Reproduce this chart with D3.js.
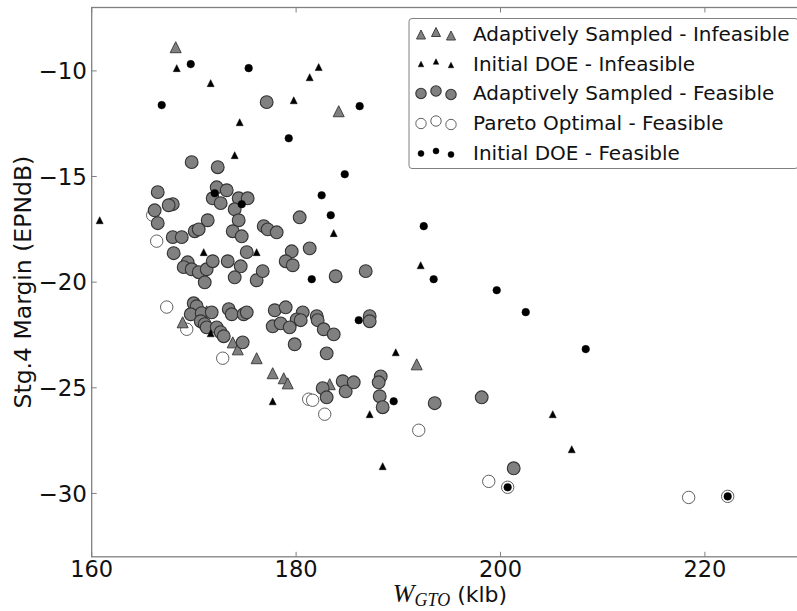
<!DOCTYPE html>
<html><head><meta charset="utf-8">
<script src="https://cdn.jsdelivr.net/npm/d3@7"></script>
<style>body{margin:0;background:#fff}svg{display:block}</style>
</head><body>
<svg id="chart" width="797" height="611"></svg>
<script>
// ---------- data ----------
const xTicks = [160, 180, 200, 220];
const yTicks = [-10, -15, -20, -25, -30];
const xDomain = [160, 230];
const yDomain = [-33, -7];
const legendLabels = [
  "Adaptively Sampled - Infeasible",
  "Initial DOE - Infeasible",
  "Adaptively Sampled - Feasible",
  "Pareto Optimal - Feasible",
  "Initial DOE - Feasible"
];
const adaptiveInfeasible = [
  [168.22,-8.88],[184.17,-11.91],[168.90,-21.90],[171.25,-21.38],[173.80,-22.85],
  [174.29,-23.18],[176.14,-23.60],[177.71,-24.31],[178.79,-24.55],[179.18,-24.79],
  [183.29,-24.83],[191.80,-23.89]
];
const initialInfeasible = [
  [168.32,-9.87],[171.64,-10.58],[174.48,-12.43],[173.99,-13.99],[179.77,-11.39],
  [181.33,-10.30],[182.21,-9.82],[160.78,-17.07],[170.96,-18.58],[176.14,-18.58],
  [183.68,-17.68],[189.75,-23.32],[171.64,-22.42],[192.19,-19.20],[177.71,-25.64],
  [187.20,-26.25],[188.47,-28.71],[205.11,-26.25],[206.97,-27.91]
];
const adaptiveFeasible = [
  [177.12,-11.48],[169.78,-14.32],[172.33,-14.56],[166.46,-15.74],[172.23,-15.51],
  [173.21,-15.65],[171.84,-16.03],[172.62,-16.26],[174.38,-16.03],[175.26,-16.03],
  [173.99,-16.55],[174.38,-17.07],[171.35,-17.07],[170.08,-17.59],[170.47,-17.50],
  [173.80,-17.59],[174.68,-17.83],[167.93,-16.31],[167.53,-16.36],[166.16,-16.60],
  [166.46,-17.21],[167.93,-17.87],[168.81,-17.87],[176.83,-17.35],[177.22,-17.50],
  [178.10,-17.64],[180.35,-16.93],[181.33,-18.40],[179.57,-18.54],[175.17,-18.58],
  [168.02,-18.63],[169.39,-19.06],[169.00,-19.29],[169.78,-19.39],[170.47,-19.53],
  [171.25,-19.39],[171.84,-19.01],[171.06,-20.01],[173.31,-19.01],[174.58,-19.25],
  [173.99,-19.77],[176.14,-19.91],[176.73,-19.48],[178.98,-19.01],[179.67,-19.20],
  [183.87,-19.72],[186.81,-19.48],
  [169.98,-21.00],[170.27,-21.14],[169.69,-21.52],[170.76,-21.47],[171.74,-21.43],
  [170.67,-21.85],[171.06,-21.99],[171.25,-22.14],[172.23,-22.14],[172.62,-22.37],
  [172.92,-22.56],[173.41,-21.28],[173.70,-21.52],[174.87,-21.52],[175.17,-21.43],
  [174.77,-22.85],[177.91,-21.33],[178.98,-21.19],[180.65,-21.43],[180.06,-21.76],
  [180.45,-21.80],[177.71,-22.09],[178.49,-21.95],[179.37,-22.14],[182.02,-21.61],
  [182.11,-21.80],[182.70,-22.23],[183.68,-22.47],[179.86,-22.94],[182.99,-23.37],
  [187.20,-21.61],[187.20,-21.85],
  [182.60,-25.02],[182.99,-25.45],[184.56,-24.69],[184.85,-25.17],[185.64,-24.74],
  [188.28,-24.46],[188.08,-24.74],[188.18,-25.40],[188.47,-25.92],[193.56,-25.73],
  [198.16,-25.45],[201.29,-28.81]
];
const paretoOptimal = [
  [165.97,-16.83],[166.36,-18.06],[167.34,-21.18],[169.30,-22.23],[172.82,-23.60],
  [181.23,-25.54],[181.62,-25.59],[182.80,-26.25],[192.00,-27.01],[198.85,-29.43],
  [200.70,-29.71],[218.41,-30.19],[222.23,-30.14]
];
const initialFeasible = [
  [169.69,-9.68],[175.36,-9.87],[166.85,-11.62],[179.28,-13.19],[186.22,-11.67],
  [184.76,-14.89],[182.50,-15.89],[172.04,-15.79],[174.68,-16.31],[183.39,-16.83],
  [181.53,-19.86],[186.13,-21.80],[192.49,-17.35],[193.46,-19.86],[199.63,-20.38],
  [202.47,-21.42],[208.34,-23.17],[189.55,-25.64],[200.70,-29.71],[222.23,-30.14]
];

// ---------- layout ----------
const svg = d3.select("#chart");
const L = 91.7, T = 7.5, B = 556.8;
const x = d3.scaleLinear().domain(xDomain).range([L, L + 70 * 10.22]);
const y = d3.scaleLinear().domain(yDomain).range([B, T]);
const R = x(xDomain[1]);
const FONT = "'DejaVu Sans', sans-serif";

const tri = s => `M0,${-s/2}L${s/2},${s/2}L${-s/2},${s/2}Z`;

const styles = [
  {type:"tri", size:11, fill:"#808080", stroke:"#404040", sw:1, lsize:9},
  {type:"tri", size:7,  fill:"#000",    stroke:"#000",    sw:0.5, lsize:5.5},
  {type:"circ", r:6.4,  fill:"#808080", stroke:"#333", sw:1.1, lr:5.2},
  {type:"circ", r:6.2,  fill:"#fff",    stroke:"#606060", sw:1, lr:5.2},
  {type:"circ", r:3.8,  fill:"#000",    stroke:"#000",    sw:0.5, lr:3}
];
const seriesData = [adaptiveInfeasible, initialInfeasible, adaptiveFeasible, paretoOptimal, initialFeasible];

// frame
svg.append("rect").attr("x", L).attr("y", T).attr("width", R - L).attr("height", B - T)
  .attr("fill", "#fff").attr("stroke", "#808080").attr("stroke-width", 1.3);

// ticks (inward, all sides)
const tg = svg.append("g").attr("stroke", "#808080").attr("stroke-width", 1);
xTicks.forEach(t => {
  tg.append("line").attr("x1", x(t)).attr("x2", x(t)).attr("y1", B).attr("y2", B - 5);
  tg.append("line").attr("x1", x(t)).attr("x2", x(t)).attr("y1", T).attr("y2", T + 5);
});
yTicks.forEach(t => {
  tg.append("line").attr("x1", L).attr("x2", L + 5).attr("y1", y(t)).attr("y2", y(t));
  tg.append("line").attr("x1", R).attr("x2", R - 5).attr("y1", y(t)).attr("y2", y(t));
});

// tick labels
svg.append("g").selectAll("text").data(xTicks).join("text")
  .attr("x", d => x(d)).attr("y", 577).attr("text-anchor", "middle")
  .attr("font-family", FONT).attr("font-size", 22.5).attr("fill", "#111").text(d => d);
svg.append("g").selectAll("text").data(yTicks).join("text")
  .attr("x", 87).attr("y", d => y(d) + 8.2).attr("text-anchor", "end")
  .attr("font-family", FONT).attr("font-size", 23).attr("fill", "#111")
  .text(d => "\u2212" + Math.abs(d));

// points
const order = [3, 0, 2, 1, 4];
order.forEach(i => {
  const st = styles[i];
  const g = svg.append("g");
  if (st.type === "circ") {
    g.selectAll("circle").data(seriesData[i]).join("circle")
      .attr("cx", d => x(d[0])).attr("cy", d => y(d[1])).attr("r", st.r)
      .attr("fill", st.fill).attr("stroke", st.stroke).attr("stroke-width", st.sw);
  } else {
    g.selectAll("path").data(seriesData[i]).join("path")
      .attr("transform", d => `translate(${x(d[0])},${y(d[1])})`).attr("d", tri(st.size))
      .attr("fill", st.fill).attr("stroke", st.stroke).attr("stroke-width", st.sw);
  }
});

// legend
const lg = svg.append("g");
lg.append("rect").attr("x", 409).attr("y", 18.5).attr("width", 389).attr("height", 150)
  .attr("rx", 3).attr("fill", "#fff").attr("stroke", "#808080").attr("stroke-width", 1);
const rowY = [34, 63.5, 93, 123, 153];
const mx = [421, 436, 451], myOff = [0.5, -2, 1.5];
legendLabels.forEach((lab, i) => {
  const st = styles[i];
  mx.forEach((xx, k) => {
    const cy = rowY[i] + myOff[k];
    if (st.type === "circ") {
      lg.append("circle").attr("cx", xx).attr("cy", cy).attr("r", st.lr)
        .attr("fill", st.fill).attr("stroke", st.stroke).attr("stroke-width", st.sw);
    } else {
      lg.append("path").attr("transform", `translate(${xx},${cy})`).attr("d", tri(st.lsize))
        .attr("fill", st.fill).attr("stroke", st.stroke).attr("stroke-width", st.sw);
    }
  });
  lg.append("text").attr("x", 473).attr("y", rowY[i] + 7.3)
    .attr("font-family", FONT).attr("font-size", 20).attr("fill", "#111").text(lab);
});

// axis labels
svg.append("text").attr("transform", `translate(31,${(T + B) / 2}) rotate(-90)`)
  .attr("text-anchor", "middle").attr("font-family", FONT).attr("font-size", 23.5)
  .attr("fill", "#111").text("Stg.4 Margin (EPNdB)");

const xl = svg.append("text").attr("x", 450).attr("y", 602).attr("text-anchor", "middle")
  .attr("fill", "#111");
xl.append("tspan").attr("font-family", "'Liberation Serif', serif").attr("font-style", "italic")
  .attr("font-size", 26).text("W");
xl.append("tspan").attr("font-family", "'Liberation Serif', serif").attr("font-style", "italic")
  .attr("font-size", 18).attr("dy", 4).text("GTO");
xl.append("tspan").attr("font-family", FONT).attr("font-size", 22).attr("dy", -4).text(" (klb)");
</script>
</body></html>
